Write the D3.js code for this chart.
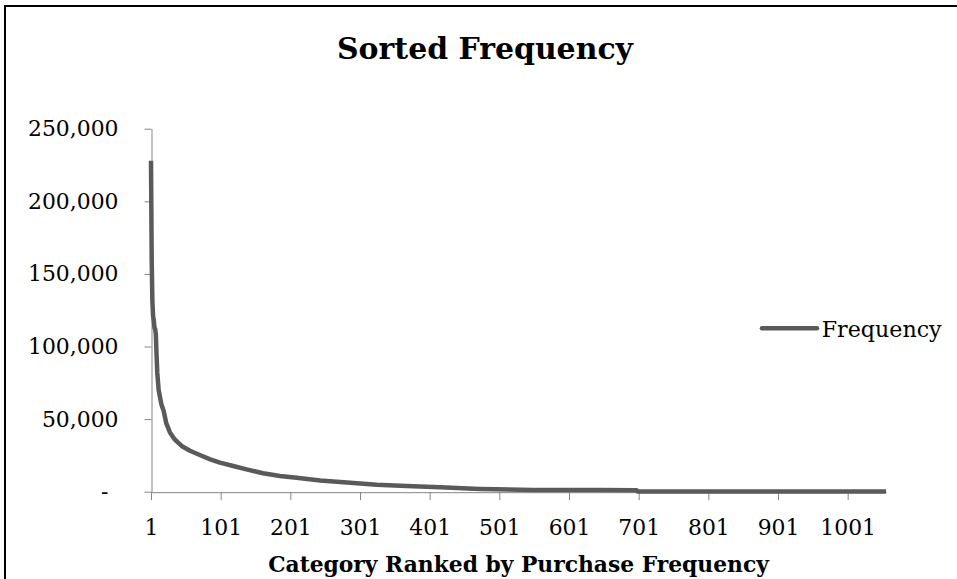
<!DOCTYPE html>
<html>
<head>
<meta charset="utf-8">
<script src="https://cdn.jsdelivr.net/npm/d3@7"></script>
<style>
  html, body { margin: 0; padding: 0; background: #ffffff; }
  svg { display: block; }
</style>
</head>
<body>
<svg id="chart" width="957" height="579"></svg>
<script>
// Category rank (1 = most purchased) and its purchase frequency
const ranks = [1, 2, 3, 4, 5, 6, 7, 8, 9, 10, 11, 12, 14, 16, 19, 23, 28, 35, 45, 57,
  71, 86, 100, 119, 138, 162, 186, 210, 244, 287, 325, 368, 416, 473, 550, 645, 698, 699, 1056];
const frequencies = [228000, 160000, 131000, 121000, 118000, 113000, 112000, 108000, 94000, 82000,
  76000, 70000, 65000, 60000, 56000, 47000, 41000, 36000, 31500, 28200,
  25300, 22300, 20000, 17700, 15400, 12700, 10800, 9600, 7700, 6200,
  4800, 3900, 3000, 1900, 1200, 1200, 1000, 200, 200];

const xTickValues = [1, 101, 201, 301, 401, 501, 601, 701, 801, 901, 1001];
const yTickValues = [0, 50000, 100000, 150000, 200000, 250000];

const chartTitle = "Sorted Frequency";
const xAxisTitle = "Category Ranked by Purchase Frequency";
const seriesName = "Frequency";

const FONT = "'DejaVu Serif', 'Liberation Serif', serif";
const LINE_COLOR = "#5a5a5a";
const AXIS_COLOR = "#868686";

const svg = d3.select("#chart");

// shrink or grow a text's font size so it spans the given width
function fitWidth(sel, target) {
  const w = sel.node().getComputedTextLength();
  const fs = parseFloat(sel.attr("font-size"));
  sel.attr("font-size", (fs * target / w).toFixed(2));
}

// chart frame (left and top edges)
svg.append("path")
  .attr("d", "M5,579 V6 H957")
  .attr("fill", "none")
  .attr("stroke", "#000")
  .attr("stroke-width", 2);

const data = ranks.map((r, i) => ({ rank: r, value: frequencies[i] }));

const x = d3.scaleLinear().domain([1, d3.max(ranks)]).range([151, 886]);
const y = d3.scaleLinear().domain([0, 250000]).range([491.7, 128.7]);

// y axis
const yAxis = svg.append("g")
  .attr("transform", "translate(151.5,0)")
  .call(d3.axisLeft(y)
    .tickValues(yTickValues)
    .tickSize(7)
    .tickSizeOuter(0)
    .tickPadding(26)
    .tickFormat(d => d === 0 ? "-" : d3.format(",")(d)));

// x axis
const xAxis = svg.append("g")
  .attr("transform", "translate(0,492.2)")
  .call(d3.axisBottom(x)
    .tickValues(xTickValues)
    .tickSize(8)
    .tickSizeOuter(0)
    .tickFormat(d3.format("d")));

[yAxis, xAxis].forEach(g => {
  g.select(".domain").attr("stroke", AXIS_COLOR);
  g.selectAll(".tick line").attr("stroke", AXIS_COLOR);
  g.selectAll(".tick text")
    .attr("fill", "#000")
    .attr("font-family", FONT)
    .attr("font-size", 22);
});

// size tick labels from the widest y label
const widest = yAxis.selectAll(".tick text").filter(d => d === 250000);
fitWidth(widest, 90.5);
const tickFs = widest.attr("font-size");
svg.selectAll(".tick text").attr("font-size", tickFs);

yAxis.selectAll(".tick text").filter(d => d === 0).attr("x", -43);
xAxis.selectAll(".tick text").attr("y", 0).attr("dy", 0)
  .attr("transform", "translate(0,42.8)");

// series line
const line = d3.line()
  .x(d => x(d.rank))
  .y(d => y(d.value))
  .curve(d3.curveLinear);

svg.append("path")
  .datum(data)
  .attr("d", line)
  .attr("fill", "none")
  .attr("stroke", LINE_COLOR)
  .attr("stroke-width", 4.5)
  .attr("stroke-linejoin", "round")
  .attr("stroke-linecap", "butt");

// chart title
const title = svg.append("text")
  .attr("x", 485)
  .attr("y", 59.3)
  .attr("text-anchor", "middle")
  .attr("font-family", FONT)
  .attr("font-weight", "bold")
  .attr("font-size", 27)
  .attr("fill", "#000")
  .text(chartTitle);
fitWidth(title, 296);

// x axis title
const xTitle = svg.append("text")
  .attr("x", 518.5)
  .attr("y", 571.7)
  .attr("text-anchor", "middle")
  .attr("font-family", FONT)
  .attr("font-weight", "bold")
  .attr("font-size", 22)
  .attr("fill", "#000")
  .text(xAxisTitle);
fitWidth(xTitle, 501);

// legend
const legend = svg.append("g");
legend.append("line")
  .attr("x1", 762).attr("x2", 817)
  .attr("y1", 328.3).attr("y2", 328.3)
  .attr("stroke", LINE_COLOR)
  .attr("stroke-width", 4.5)
  .attr("stroke-linecap", "round");
const legendText = legend.append("text")
  .attr("x", 821.7)
  .attr("y", 336.7)
  .attr("font-family", FONT)
  .attr("font-size", 22)
  .attr("fill", "#000")
  .text(seriesName);
fitWidth(legendText, 120);
</script>
</body>
</html>
